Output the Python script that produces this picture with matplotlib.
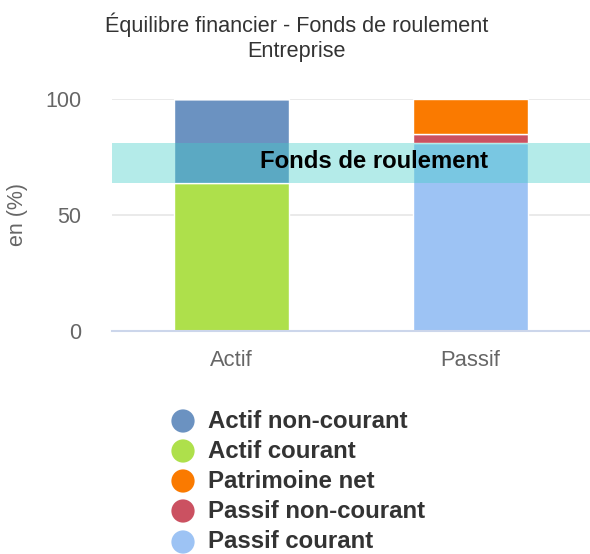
import matplotlib
matplotlib.use("Agg")
import matplotlib.pyplot as plt

plt.rcParams['font.family'] = ['Liberation Sans', 'DejaVu Sans']

categories = ["Actif", "Passif"]

# stacked segments, bottom to top, per category (percent)
series_names = ["Actif courant", "Actif non-courant", "Passif courant", "Passif non-courant", "Patrimoine net"]
actif_courant = [64, 0]
actif_non_courant = [36, 0]
passif_courant = [0, 81]
passif_non_courant = [0, 4]
patrimoine_net = [0, 15]

band_low = 64
band_high = 81
band_label = "Fonds de roulement"

y_ticks = [0, 50, 100]

colors = {
    "Actif non-courant": "#6b92c1",
    "Actif courant": "#aee04b",
    "Patrimoine net": "#fa7a00",
    "Passif non-courant": "#cb5161",
    "Passif courant": "#9dc3f4",
}
legend_order = ["Actif non-courant", "Actif courant", "Patrimoine net", "Passif non-courant", "Passif courant"]

W, H = 590, 554
fig = plt.figure(figsize=(W / 100, H / 100), dpi=100)
ax = fig.add_axes([112 / W, (H - 331) / H, (590 - 112) / W, (331 - 99) / H])

x = list(range(len(categories)))
values = {
    "Actif courant": actif_courant,
    "Actif non-courant": actif_non_courant,
    "Passif courant": passif_courant,
    "Passif non-courant": passif_non_courant,
    "Patrimoine net": patrimoine_net,
}
bottom = [0] * len(categories)
for name in series_names:
    vals = values[name]
    ax.bar(x, vals, width=0.48, bottom=bottom, color=colors[name],
           edgecolor="white", linewidth=1, zorder=2)
    bottom = [b + v for b, v in zip(bottom, vals)]

# plot band
ax.axhspan(band_low, band_high, color="#44cec8", alpha=0.4, lw=0, zorder=3)
ax.text(0.596, (band_low + band_high) / 2 + 0.5, band_label, ha="center", va="center",
        fontsize=17.2, fontweight="bold", color="black", zorder=4)

ax.set_xlim(-0.5, 1.5)
ax.set_ylim(0, 100)
ax.set_yticks(y_ticks)
ax.set_xticks(x)
ax.set_xticklabels(categories)
ax.tick_params(axis="y", length=0, pad=22, labelsize=15.5, labelcolor="#666666")
ax.tick_params(axis="x", length=0, pad=14, labelsize=15.8, labelcolor="#666666")
ax.yaxis.grid(True, color="#e6e6e6", linewidth=1.2, zorder=0)
ax.set_axisbelow(True)
for s in ["top", "right", "left"]:
    ax.spines[s].set_visible(False)
ax.spines["bottom"].set_color("#ccd6eb")
ax.spines["bottom"].set_linewidth(1.5)
ax.spines["bottom"].set_zorder(5)

fig.text(18 / W, 1 - 215 / H, "en (%)", rotation=90, ha="center", va="center",
         fontsize=15.5, color="#666666")

fig.text(297 / W, 1 - 25 / H, "Équilibre financier - Fonds de roulement",
         ha="center", va="center", fontsize=15.6, color="#333333")
fig.text(297 / W, 1 - 52 / H, "Entreprise",
         ha="center", va="center", fontsize=15.6, color="#333333")

# legend
lax = fig.add_axes([0, 0, 1, 1], zorder=10)
lax.set_xlim(0, W)
lax.set_ylim(H, 0)
lax.axis("off")
row_y = [421, 451, 481, 511, 542]
for name, yy in zip(legend_order, row_y):
    lax.scatter([183], [yy], s=280, color=colors[name], edgecolors="none")
    lax.text(208, yy, name, ha="left", va="center", fontsize=17.3,
             fontweight="bold", color="#333333")

fig.savefig("out.png", dpi=100)
